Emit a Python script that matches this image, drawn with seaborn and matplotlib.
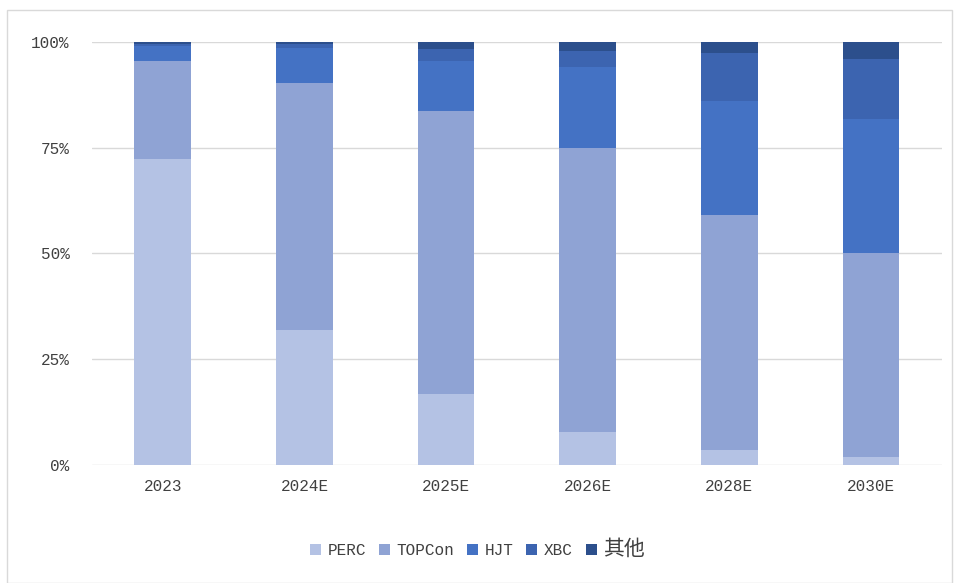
import numpy as np
import pandas as pd
import matplotlib
matplotlib.use('Agg')
import matplotlib.pyplot as plt
import seaborn as sns
from matplotlib.ticker import PercentFormatter
from matplotlib.patches import Rectangle

years = ['2023', '2024E', '2025E', '2026E', '2028E', '2030E']
perc = [72.3, 32.0, 16.8, 7.8, 3.5, 2.0]
topcon = [23.2, 58.3, 66.9, 67.2, 55.6, 48.0]
hjt = [3.6, 8.2, 11.8, 19.0, 27.0, 31.9]
xbc = [0.5, 1.0, 2.9, 3.8, 11.3, 14.1]
other = [0.4, 0.5, 1.6, 2.2, 2.6, 4.0]

series = ['PERC', 'TOPCon', 'HJT', 'XBC', '其他']
colors = ['#b4c2e4', '#8fa3d4', '#4472c4', '#3c64b0', '#2c4f8c']

df = pd.DataFrame({'year': years, 'PERC': perc, 'TOPCon': topcon,
                   'HJT': hjt, 'XBC': xbc, '其他': other})

sns.set_style('white')
plt.rcParams['font.family'] = ['Liberation Mono', 'Noto Sans CJK SC', 'DejaVu Sans']

fig = plt.figure(figsize=(9.55, 5.83), dpi=100)
ax = fig.add_axes([0.0963, 0.2024, 0.89, 0.7256])

bottom = np.zeros(len(years))
for name, col in zip(series, colors):
    sns.barplot(data=df, x='year', y=name, color=col, saturation=1,
                width=0.4, errorbar=None, bottom=bottom, label=name,
                linewidth=0, edgecolor=col, ax=ax, zorder=3)
    bottom = bottom + df[name].values

ax.set_ylim(0, 100)
ax.set_xlim(-0.5, 5.5)
ax.set_yticks([0, 25, 50, 75, 100])
ax.yaxis.set_major_formatter(PercentFormatter(decimals=0))
ax.grid(axis='y', color='#d9d9d9', linewidth=1, zorder=0)
ax.set_axisbelow(True)
for s in ax.spines.values():
    s.set_visible(False)
ax.tick_params(axis='both', length=0, labelsize=11.5, colors='#404040')
ax.tick_params(axis='y', pad=16)
ax.tick_params(axis='x', pad=10)
ax.set_xlabel('')
ax.set_ylabel('')

handles, labels = ax.get_legend_handles_labels()
if ax.get_legend() is not None:
    ax.get_legend().remove()
leg = fig.legend(handles, labels, loc='center', bbox_to_anchor=(0.5, 0.058),
                 ncol=5, frameon=False, fontsize=11.5, handlelength=0.7,
                 handleheight=0.7, handletextpad=0.4, columnspacing=0.8,
                 labelcolor='#404040')
for t in leg.get_texts():
    if t.get_text() == '其他':
        t.set_fontsize(15)

fig.patches.append(Rectangle((0.007, 0.0), 0.99, 0.982, transform=fig.transFigure,
                             fill=False, edgecolor='#d9d9d9', linewidth=1))

fig.savefig('out.png', dpi=100)
